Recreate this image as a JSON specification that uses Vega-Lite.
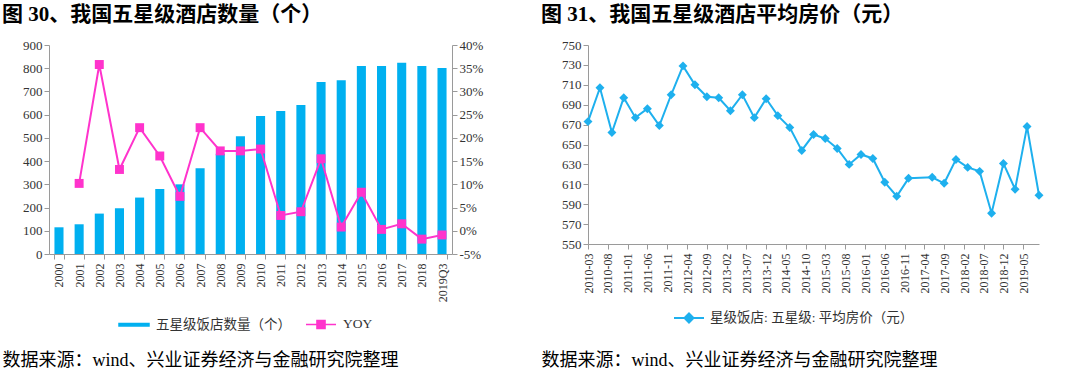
{
  "$schema": "https://vega.github.io/schema/vega-lite/v6.json",
  "padding": {"left": 2, "top": 4, "right": 2, "bottom": 2},
  "background": "white",
  "spacing": 136,
  "bounds": "flush",
  "resolve": {"scale": {"color": "independent"}, "legend": {"color": "independent"}},
  "config": {
    "font": "Liberation Serif, Noto Sans CJK SC",
    "view": {"stroke": null},
    "axis": {
      "labelFont": "Liberation Serif, Noto Sans CJK SC",
      "labelFontSize": 13,
      "labelColor": "#333333",
      "domainColor": "#9a9a9a",
      "tickColor": "#9a9a9a",
      "grid": false,
      "tickSize": 5
    },
    "title": {
      "font": "Liberation Serif, Noto Sans CJK SC",
      "fontSize": 21,
      "fontWeight": "bold",
      "color": "#000000",
      "anchor": "start",
      "frame": "group",
      "dx": -47,
      "offset": 14
    }
  },
  "hconcat": [
    {
      "width": 403,
      "height": 209,
      "title": {"text": "图 30、我国五星级酒店数量（个）"},
      "data": {
        "values": [
          {"year": "2000", "count": 115, "yoy": null},
          {"year": "2001", "count": 128, "yoy": 0.102},
          {"year": "2002", "count": 174, "yoy": 0.358},
          {"year": "2003", "count": 197, "yoy": 0.132},
          {"year": "2004", "count": 243, "yoy": 0.222},
          {"year": "2005", "count": 280, "yoy": 0.161},
          {"year": "2006", "count": 300, "yoy": 0.074},
          {"year": "2007", "count": 369, "yoy": 0.222},
          {"year": "2008", "count": 432, "yoy": 0.172},
          {"year": "2009", "count": 507, "yoy": 0.172},
          {"year": "2010", "count": 594, "yoy": 0.176},
          {"year": "2011", "count": 616, "yoy": 0.033},
          {"year": "2012", "count": 642, "yoy": 0.041},
          {"year": "2013", "count": 741, "yoy": 0.155},
          {"year": "2014", "count": 748, "yoy": 0.008},
          {"year": "2015", "count": 810, "yoy": 0.083},
          {"year": "2016", "count": 810, "yoy": 0.003},
          {"year": "2017", "count": 824, "yoy": 0.015},
          {"year": "2018", "count": 810, "yoy": -0.018},
          {"year": "2019Q3", "count": 801, "yoy": -0.009}
        ]
      },
      "encoding": {
        "x": {
          "field": "year",
          "type": "ordinal",
          "sort": null,
          "scale": {"paddingInner": 0.55, "paddingOuter": 0.27},
          "axis": {
            "labelAngle": -90,
            "labelFontSize": 12,
            "labelPadding": 4,
            "tickBand": "extent",
            "title": "数据来源：wind、兴业证券经济与金融研究院整理",
            "titleFont": "Liberation Serif, Noto Sans CJK SC",
            "titleFontSize": 18,
            "titleFontWeight": "normal",
            "titleColor": "#000000",
            "titleAnchor": "start",
            "titleAlign": "left",
            "titleBaseline": "middle",
            "titleAngle": 0,
            "titleX": -47,
            "titleY": 106
          }
        }
      },
      "layer": [
        {
          "mark": {"type": "bar"},
          "encoding": {
            "y": {
              "field": "count",
              "type": "quantitative",
              "scale": {"domain": [0, 900]},
              "axis": {"title": null, "values": [0, 100, 200, 300, 400, 500, 600, 700, 800, 900]}
            },
            "color": {
              "datum": "五星级饭店数量（个）",
              "scale": {"domain": ["五星级饭店数量（个）", "YOY"], "range": ["#00B0F0", "#FF33CC"]},
              "legend": {
                "orient": "none",
                "legendX": 69,
                "legendY": 263,
                "direction": "horizontal",
                "title": null,
                "padding": 0,
                "labelFont": "Liberation Serif, Noto Sans CJK SC",
                "labelFontSize": 13.5,
                "labelColor": "#333333",
                "labelLimit": 300,
                "symbolSize": 900,
                "columnPadding": 12,
                "labelOffset": 6,
                "encode": {
                  "symbols": {
                    "update": {
                      "shape": {"signal": "datum.value === 'YOY' ? 'M-1,0H1M-0.27,-0.27H0.27V0.27H-0.27Z' : 'M-1,-0.08H1V0.08H-1Z'"},
                      "fill": {"signal": "datum.value === 'YOY' ? '#FF33CC' : '#00B0F0'"},
                      "stroke": {"signal": "datum.value === 'YOY' ? '#FF33CC' : '#00B0F0'"},
                      "strokeWidth": {"value": 1.5},
                      "opacity": {"value": 1}
                    }
                  }
                }
              }
            }
          }
        },
        {
          "transform": [{"filter": "datum.yoy != null"}],
          "mark": {"type": "line", "strokeWidth": 2, "point": {"shape": "square", "size": 80, "filled": true}},
          "encoding": {
            "y": {
              "field": "yoy",
              "type": "quantitative",
              "scale": {"domain": [-0.05, 0.4]},
              "axis": {
                "orient": "right",
                "title": null,
                "format": ".0%",
                "values": [-0.05, 0, 0.05, 0.1, 0.15, 0.2, 0.25, 0.3, 0.35, 0.4],
                "labelExpr": "replace(datum.label, '−', '-')"
              }
            },
            "color": {"datum": "YOY"}
          }
        }
      ],
      "resolve": {"scale": {"y": "independent"}}
    },
    {
      "width": 451,
      "height": 199,
      "title": {"text": "图 31、我国五星级酒店平均房价（元）"},
      "data": {
        "values": [
          {"month": "2010-03-01", "price": 673},
          {"month": "2010-06-01", "price": 707},
          {"month": "2010-09-01", "price": 662},
          {"month": "2010-12-01", "price": 697},
          {"month": "2011-03-01", "price": 677},
          {"month": "2011-06-01", "price": 686},
          {"month": "2011-09-01", "price": 669},
          {"month": "2011-12-01", "price": 700},
          {"month": "2012-03-01", "price": 729},
          {"month": "2012-06-01", "price": 710},
          {"month": "2012-09-01", "price": 698},
          {"month": "2012-12-01", "price": 697},
          {"month": "2013-03-01", "price": 684},
          {"month": "2013-06-01", "price": 700},
          {"month": "2013-09-01", "price": 677},
          {"month": "2013-12-01", "price": 696},
          {"month": "2014-03-01", "price": 679},
          {"month": "2014-06-01", "price": 667},
          {"month": "2014-09-01", "price": 644},
          {"month": "2014-12-01", "price": 660},
          {"month": "2015-03-01", "price": 656},
          {"month": "2015-06-01", "price": 646},
          {"month": "2015-09-01", "price": 630},
          {"month": "2015-12-01", "price": 640},
          {"month": "2016-03-01", "price": 636},
          {"month": "2016-06-01", "price": 612},
          {"month": "2016-09-01", "price": 598},
          {"month": "2016-12-01", "price": 616},
          {"month": "2017-06-01", "price": 617},
          {"month": "2017-09-01", "price": 611},
          {"month": "2017-12-01", "price": 635},
          {"month": "2018-03-01", "price": 627},
          {"month": "2018-06-01", "price": 623},
          {"month": "2018-09-01", "price": 581},
          {"month": "2018-12-01", "price": 631},
          {"month": "2019-03-01", "price": 605},
          {"month": "2019-06-01", "price": 668},
          {"month": "2019-09-01", "price": 599}
        ]
      },
      "mark": {"type": "line", "strokeWidth": 2, "point": {"shape": "diamond", "size": 80, "filled": true}},
      "encoding": {
        "x": {
          "field": "month",
          "type": "temporal",
          "scale": {
            "domain": [
              {"year": 2010, "month": 3, "date": 1, "utc": true},
              {"year": 2019, "month": 9, "date": 1, "utc": true}
            ]
          },
          "axis": {
            "values": [
              {"year": 2010, "month": 3, "date": 1, "utc": true},
              {"year": 2010, "month": 8, "date": 1, "utc": true},
              {"year": 2011, "month": 1, "date": 1, "utc": true},
              {"year": 2011, "month": 6, "date": 1, "utc": true},
              {"year": 2011, "month": 11, "date": 1, "utc": true},
              {"year": 2012, "month": 4, "date": 1, "utc": true},
              {"year": 2012, "month": 9, "date": 1, "utc": true},
              {"year": 2013, "month": 2, "date": 1, "utc": true},
              {"year": 2013, "month": 7, "date": 1, "utc": true},
              {"year": 2013, "month": 12, "date": 1, "utc": true},
              {"year": 2014, "month": 5, "date": 1, "utc": true},
              {"year": 2014, "month": 10, "date": 1, "utc": true},
              {"year": 2015, "month": 3, "date": 1, "utc": true},
              {"year": 2015, "month": 8, "date": 1, "utc": true},
              {"year": 2016, "month": 1, "date": 1, "utc": true},
              {"year": 2016, "month": 6, "date": 1, "utc": true},
              {"year": 2016, "month": 11, "date": 1, "utc": true},
              {"year": 2017, "month": 4, "date": 1, "utc": true},
              {"year": 2017, "month": 9, "date": 1, "utc": true},
              {"year": 2018, "month": 2, "date": 1, "utc": true},
              {"year": 2018, "month": 7, "date": 1, "utc": true},
              {"year": 2018, "month": 12, "date": 1, "utc": true},
              {"year": 2019, "month": 5, "date": 1, "utc": true}
            ],
            "labelExpr": "utcFormat(datum.value, '%Y-%m')",
            "labelAngle": -90,
            "labelFontSize": 12,
            "labelPadding": 4,
            "labelOverlap": false,
            "title": "数据来源：wind、兴业证券经济与金融研究院整理",
            "titleFont": "Liberation Serif, Noto Sans CJK SC",
            "titleFontSize": 18,
            "titleFontWeight": "normal",
            "titleColor": "#000000",
            "titleAnchor": "start",
            "titleAlign": "left",
            "titleBaseline": "middle",
            "titleAngle": 0,
            "titleX": -47,
            "titleY": 116
          }
        },
        "y": {
          "field": "price",
          "type": "quantitative",
          "scale": {"domain": [550, 750]},
          "axis": {"title": null, "values": [550, 570, 590, 610, 630, 650, 670, 690, 710, 730, 750]}
        },
        "color": {
          "datum": "星级饭店: 五星级: 平均房价（元）",
          "scale": {"domain": ["星级饭店: 五星级: 平均房价（元）"], "range": ["#1EB0EE"]},
          "legend": {
            "orient": "none",
            "legendX": 85,
            "legendY": 257,
            "direction": "horizontal",
            "title": null,
            "padding": 0,
            "labelFont": "Liberation Serif, Noto Sans CJK SC",
            "labelFontSize": 13.5,
            "labelColor": "#333333",
            "labelLimit": 300,
            "symbolSize": 900,
            "symbolType": "M-1,0H1M0,-0.3L0.3,0L0,0.3L-0.3,0Z",
            "symbolStrokeWidth": 2,
            "symbolFillColor": "#1EB0EE",
            "symbolStrokeColor": "#1EB0EE",
            "labelOffset": 5
          }
        }
      }
    }
  ]
}
